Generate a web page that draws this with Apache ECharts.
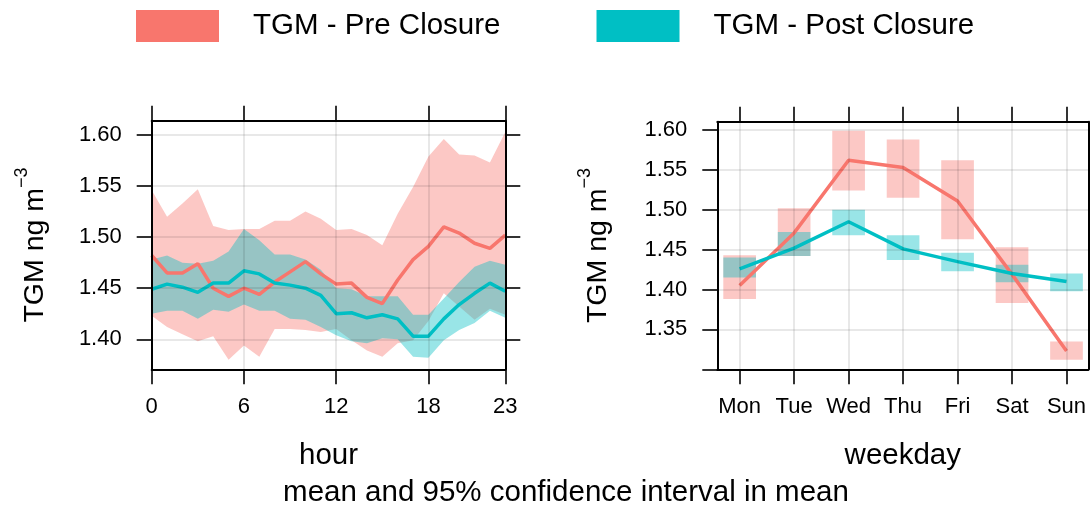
<!DOCTYPE html>
<html>
<head>
<meta charset="utf-8">
<script src="https://cdn.jsdelivr.net/npm/echarts@6/dist/echarts.min.js"></script>
<style>
html, body { margin: 0; padding: 0; background: #fff; }
#chart { width: 1091px; height: 507px; }
</style>
</head>
<body>
<div id="chart"></div>
<script>
// hour of day panel
var hours = [0, 1, 2, 3, 4, 5, 6, 7, 8, 9, 10, 11, 12, 13, 14, 15, 16, 17, 18, 19, 20, 21, 22, 23];
var hourTicks = [0, 6, 12, 18, 23];
var preHourMean  = [1.482, 1.465, 1.465, 1.474, 1.450, 1.442, 1.450, 1.444, 1.456, 1.466, 1.476, 1.464, 1.454, 1.455, 1.441, 1.435, 1.458, 1.478, 1.491, 1.510, 1.504, 1.494, 1.489, 1.502];
var preHourUpper = [1.546, 1.520, 1.533, 1.547, 1.511, 1.507, 1.508, 1.508, 1.516, 1.516, 1.525, 1.518, 1.507, 1.508, 1.502, 1.492, 1.523, 1.549, 1.579, 1.596, 1.581, 1.580, 1.573, 1.603];
var preHourLower = [1.423, 1.412, 1.405, 1.398, 1.403, 1.380, 1.394, 1.383, 1.410, 1.410, 1.409, 1.407, 1.410, 1.399, 1.389, 1.383, 1.396, 1.399, 1.418, 1.445, 1.432, 1.419, 1.430, 1.424];
var postHourMean  = [1.449, 1.454, 1.451, 1.446, 1.455, 1.455, 1.467, 1.464, 1.455, 1.453, 1.450, 1.443, 1.425, 1.426, 1.421, 1.424, 1.420, 1.403, 1.403, 1.420, 1.434, 1.445, 1.455, 1.447];
var postHourUpper = [1.478, 1.482, 1.475, 1.474, 1.477, 1.486, 1.508, 1.497, 1.483, 1.483, 1.478, 1.468, 1.450, 1.449, 1.442, 1.442, 1.442, 1.424, 1.424, 1.440, 1.456, 1.471, 1.477, 1.473];
var postHourLower = [1.425, 1.428, 1.428, 1.420, 1.429, 1.427, 1.434, 1.428, 1.428, 1.420, 1.419, 1.412, 1.404, 1.398, 1.396, 1.401, 1.400, 1.383, 1.382, 1.399, 1.409, 1.416, 1.428, 1.421];
var hourYTicks = [1.40, 1.45, 1.50, 1.55, 1.60];

// weekday panel
var days = ['Mon', 'Tue', 'Wed', 'Thu', 'Fri', 'Sat', 'Sun'];
var dayIdx = [0, 1, 2, 3, 4, 5, 6];
var preDayMean  = [1.405, 1.471, 1.562, 1.553, 1.511, 1.419, 1.323];
var preDayUpper = [1.443, 1.502, 1.599, 1.588, 1.562, 1.453, 1.335];
var preDayLower = [1.388, 1.442, 1.524, 1.515, 1.463, 1.383, 1.312];
var postDayMean  = [1.426, 1.452, 1.485, 1.451, 1.435, 1.420, 1.410];
var postDayUpper = [1.440, 1.472, 1.500, 1.468, 1.446, 1.431, 1.420];
var postDayLower = [1.415, 1.442, 1.468, 1.437, 1.423, 1.409, 1.398];
var dayYTicks = [1.30, 1.35, 1.40, 1.45, 1.50, 1.55, 1.60];
var dayYLabels = [1.35, 1.40, 1.45, 1.50, 1.55, 1.60];

var preName = 'TGM - Pre Closure';
var postName = 'TGM - Post Closure';
var preColor = '#F8766D';
var postColor = '#00BFC4';
var font = "'Liberation Sans', Arial, sans-serif";
var boxHalf = 0.3;

var chart = echarts.init(document.getElementById('chart'), null, { renderer: 'canvas' });

function isHourTick(i) { return hourTicks.indexOf(i) >= 0; }
var gridLine = { show: true, lineStyle: { color: 'rgba(0,0,0,0.12)', width: 1.5 } };
var frameLine = { show: true, onZero: false, lineStyle: { color: '#000', width: 2 } };
var tickStyle = { color: '#000', width: 1.6 };
var tickFont = { color: '#000', fontSize: 22, fontFamily: font };
var titleFont = { color: '#000', fontSize: 29.5, fontFamily: font };
var yTitle = 'TGM ng m{sup|\u22123}';
var yTitleStyle = {
    color: '#000', fontSize: 28.5, fontFamily: font,
    rich: { sup: { fontSize: 18, fontFamily: font, color: '#000', verticalAlign: 'top', lineHeight: 44 } }
};

function rectItem(color) {
    return function(params, api) {
        var x = api.value(0);
        var p1 = api.coord([x - boxHalf, api.value(2)]);
        var p2 = api.coord([x + boxHalf, api.value(1)]);
        return {
            type: 'rect',
            shape: { x: p1[0], y: p1[1], width: p2[0] - p1[0], height: p2[1] - p1[1] },
            style: { fill: color, opacity: 0.4 }
        };
    };
}

chart.setOption({
    animation: false,
    legend: {
        left: 131, top: 5,
        icon: 'rect', itemWidth: 83, itemHeight: 32, itemGap: 96,
        textStyle: { color: '#000', fontSize: 29.5, fontFamily: font, padding: [6, 0, 0, 29] },
        data: [
            { name: preName, itemStyle: { color: preColor, borderWidth: 0 } },
            { name: postName, itemStyle: { color: postColor, borderWidth: 0 } }
        ],
        selectedMode: false
    },
    graphic: [{
        type: 'text', x: 566, y: 493,
        style: { text: 'mean and 95% confidence interval in mean', font: "29.5px 'Liberation Sans', Arial, sans-serif",
                 fill: '#000', textAlign: 'center', textVerticalAlign: 'middle' }
    }],
    grid: [
        { left: 151.7, top: 120.7, width: 353.6, height: 248.6 },
        { left: 717.3, top: 121.7, width: 371, height: 247.6 }
    ],
    xAxis: [
        {
            gridIndex: 0, type: 'category', data: hours, boundaryGap: false, z: 10,
            name: 'hour', nameLocation: 'middle', nameGap: 72, nameTextStyle: titleFont,
            axisLine: frameLine,
            axisTick: { show: true, length: 15, interval: function(i) { return isHourTick(i); }, lineStyle: tickStyle },
            axisLabel: Object.assign({ margin: 27, interval: function(i) { return isHourTick(i); } }, tickFont),
            splitLine: { show: true, interval: function(i) { return isHourTick(i); }, lineStyle: gridLine.lineStyle }
        },
        {
            gridIndex: 0, type: 'category', data: hours, boundaryGap: false, position: 'top', z: 10,
            axisLine: frameLine,
            axisTick: { show: true, length: 15, interval: function(i) { return isHourTick(i); }, lineStyle: tickStyle },
            axisLabel: { show: false }, splitLine: { show: false }
        },
        {
            gridIndex: 1, type: 'value', min: -0.41, max: 6.4, z: 10,
            name: 'weekday', nameLocation: 'middle', nameGap: 72, nameTextStyle: titleFont,
            axisLine: frameLine,
            axisTick: { show: true, length: 15, customValues: dayIdx, lineStyle: tickStyle },
            axisLabel: Object.assign({ margin: 27, customValues: dayIdx, formatter: function(v) { return days[Math.round(v)]; } }, tickFont),
            splitLine: gridLine
        },
        {
            gridIndex: 1, type: 'value', min: -0.41, max: 6.4, position: 'top', z: 10,
            axisLine: frameLine,
            axisTick: { show: true, length: 15, customValues: dayIdx, lineStyle: tickStyle },
            axisLabel: { show: false }, splitLine: { show: false }
        }
    ],
    yAxis: [
        {
            gridIndex: 0, type: 'value', min: 1.3706, max: 1.614, z: 10,
            name: yTitle, nameLocation: 'middle', nameGap: 95, nameTextStyle: yTitleStyle,
            axisLine: frameLine,
            axisTick: { show: true, length: 15, customValues: hourYTicks, lineStyle: tickStyle },
            axisLabel: Object.assign({ margin: 30, customValues: hourYTicks, formatter: function(v) { return v.toFixed(2); } }, tickFont),
            splitLine: gridLine
        },
        {
            gridIndex: 0, type: 'value', min: 1.3706, max: 1.614, position: 'right', z: 10,
            axisLine: frameLine,
            axisTick: { show: true, length: 15, customValues: hourYTicks, lineStyle: tickStyle },
            axisLabel: { show: false }, splitLine: { show: false }
        },
        {
            gridIndex: 1, type: 'value', min: 1.30, max: 1.6104, z: 10,
            name: yTitle, nameLocation: 'middle', nameGap: 97, nameTextStyle: yTitleStyle,
            axisLine: frameLine,
            axisTick: { show: true, length: 15, customValues: dayYTicks, lineStyle: tickStyle },
            axisLabel: Object.assign({ margin: 30, customValues: dayYLabels, formatter: function(v) { return v.toFixed(2); } }, tickFont),
            splitLine: gridLine
        },
        {
            gridIndex: 1, type: 'value', min: 1.30, max: 1.6104, position: 'right', z: 10,
            axisLine: frameLine,
            axisTick: { show: false }, axisLabel: { show: false }, splitLine: { show: false }
        }
    ],
    series: [
        // hour: pre closure band + mean
        { name: 'preLow', type: 'line', xAxisIndex: 0, yAxisIndex: 0, stack: 'preBand', data: preHourLower,
          symbol: 'none', silent: true, lineStyle: { opacity: 0 } },
        { name: 'preBand', type: 'line', xAxisIndex: 0, yAxisIndex: 0, stack: 'preBand',
          data: preHourUpper.map(function(u, i) { return u - preHourLower[i]; }),
          symbol: 'none', silent: true, lineStyle: { opacity: 0 }, areaStyle: { color: preColor, opacity: 0.4 } },
        { name: preName, type: 'line', xAxisIndex: 0, yAxisIndex: 0, data: preHourMean, symbol: 'none', silent: true,
          itemStyle: { color: preColor }, lineStyle: { color: preColor, width: 3.5 } },
        // hour: post closure band + mean
        { name: 'postLow', type: 'line', xAxisIndex: 0, yAxisIndex: 0, stack: 'postBand', data: postHourLower,
          symbol: 'none', silent: true, lineStyle: { opacity: 0 } },
        { name: 'postBand', type: 'line', xAxisIndex: 0, yAxisIndex: 0, stack: 'postBand',
          data: postHourUpper.map(function(u, i) { return u - postHourLower[i]; }),
          symbol: 'none', silent: true, lineStyle: { opacity: 0 }, areaStyle: { color: postColor, opacity: 0.4 } },
        { name: postName, type: 'line', xAxisIndex: 0, yAxisIndex: 0, data: postHourMean, symbol: 'none', silent: true,
          itemStyle: { color: postColor }, lineStyle: { color: postColor, width: 3.5 } },
        // weekday: pre closure
        { name: 'preBox', type: 'custom', xAxisIndex: 2, yAxisIndex: 2, silent: true,
          data: dayIdx.map(function(i) { return [i, preDayLower[i], preDayUpper[i]]; }),
          renderItem: rectItem(preColor) },
        { name: preName, type: 'line', xAxisIndex: 2, yAxisIndex: 2, symbol: 'none', silent: true,
          data: dayIdx.map(function(i) { return [i, preDayMean[i]]; }),
          itemStyle: { color: preColor }, lineStyle: { color: preColor, width: 3.5 } },
        // weekday: post closure
        { name: 'postBox', type: 'custom', xAxisIndex: 2, yAxisIndex: 2, silent: true,
          data: dayIdx.map(function(i) { return [i, postDayLower[i], postDayUpper[i]]; }),
          renderItem: rectItem(postColor) },
        { name: postName, type: 'line', xAxisIndex: 2, yAxisIndex: 2, symbol: 'none', silent: true,
          data: dayIdx.map(function(i) { return [i, postDayMean[i]]; }),
          itemStyle: { color: postColor }, lineStyle: { color: postColor, width: 3.5 } }
    ]
});
window.addEventListener('resize', function() { chart.resize(); });
</script>
</body>
</html>
